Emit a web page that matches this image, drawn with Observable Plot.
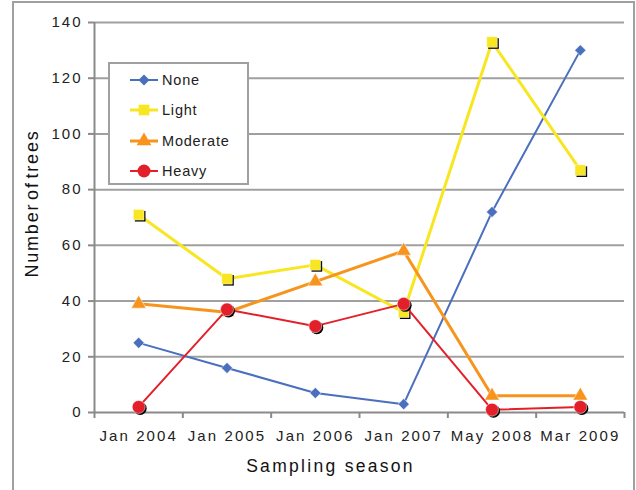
<!DOCTYPE html>
<html>
<head>
<meta charset="utf-8">
<script src="https://cdn.jsdelivr.net/npm/d3@7"></script>
<script src="https://cdn.jsdelivr.net/npm/@observablehq/plot@0.6"></script>
<style>
  body { margin: 0; background: #fff; }
  #wrap { position: relative; width: 636px; height: 490px; overflow: hidden; font-family: "Liberation Sans", Arial, sans-serif; }
  #frame { position: absolute; left: 12px; top: 1px; width: 619px; height: 520px; border: 2px solid #a0a0a0; }
  #chart { position: absolute; left: 0; top: 0; }
  #legend { position: absolute; left: 108px; top: 62px; width: 137px; height: 119px; border: 2px solid #a0a0a0; background: #fff; }
  .item { position: absolute; left: 20px; height: 20px; display: flex; align-items: center; font-size: 14.5px; letter-spacing: 0.8px; color: #222; }
  .item svg { margin-right: 2px; }
</style>
</head>
<body>
<div id="wrap">
  <div id="frame"></div>
  <div id="chart"></div>
  <div id="legend"></div>
</div>
<script>
const categories = ["Jan 2004", "Jan 2005", "Jan 2006", "Jan 2007", "May 2008", "Mar 2009"];
const seriesNames = ["None", "Light", "Moderate", "Heavy"];
const noneValues = [25, 16, 7, 3, 72, 130];
const lightValues = [71, 48, 53, 36, 133, 87];
const moderateValues = [39, 36, 47, 58, 6, 6];
const heavyValues = [2, 37, 31, 39, 1, 2];
const yTicks = [0, 20, 40, 60, 80, 100, 120, 140];
const yTitle = "Number of trees";
const xTitle = "Sampling season";
const colors = {None: "#4a6fbd", Light: "#f7e620", Moderate: "#f7941d", Heavy: "#e3202a"};
const symbols = {None: "diamond2", Light: "square", Moderate: "triangle", Heavy: "circle"};
const widths = {None: 2, Light: 3, Moderate: 3, Heavy: 2};
const sizes = {None: 5, Light: 6, Moderate: 5.5, Heavy: 6.5};

const valuesBySeries = {None: noneValues, Light: lightValues, Moderate: moderateValues, Heavy: heavyValues};
const rows = seriesNames.flatMap(s => valuesBySeries[s].map((v, i) => ({series: s, i, value: v})));
const idx = categories.map((c, i) => i);
const bounds = d3.range(-0.5, categories.length, 1);

const marks = [
  Plot.ruleY(yTicks.filter(t => t > 0), {stroke: "#a0a0a0", strokeWidth: 2}),
  Plot.ruleX([bounds[0]], {stroke: "#8a8a8a", strokeWidth: 2}),
  Plot.ruleY([0], {stroke: "#8a8a8a", strokeWidth: 2}),
  Plot.axisY({ticks: yTicks, tickSize: 6, tickPadding: 6, stroke: "#8a8a8a", strokeWidth: 2, fontSize: 15, fill: "#222", label: null}),
  Plot.axisX({ticks: bounds, tickFormat: () => "", tickSize: 6, stroke: "#8a8a8a", strokeWidth: 2, label: null}),
  Plot.axisX({ticks: idx, tickFormat: i => categories[i], tickSize: 0, tickPadding: 18, fontSize: 15, fill: "#222", label: null}),
  Plot.text([yTitle], {frameAnchor: "left", textAnchor: "middle", dx: -62, dy: -14, rotate: -90, fontSize: 18, fill: "#111"}),
  Plot.text([xTitle], {frameAnchor: "bottom", dx: -29, dy: 59, fontSize: 17.5, fill: "#111"})
];
for (const s of seriesNames) {
  const data = rows.filter(d => d.series === s);
  marks.push(Plot.line(data, {x: "i", y: "value", stroke: colors[s], strokeWidth: widths[s]}));
  if (s === "Light" || s === "Heavy") {
    marks.push(Plot.dot(data, {x: "i", y: "value", symbol: symbols[s], r: sizes[s], fill: "#000", dx: 1.5, dy: 1.5}));
  }
  marks.push(Plot.dot(data, {x: "i", y: "value", symbol: symbols[s], r: sizes[s], fill: colors[s], stroke: "#fff", strokeWidth: 0.5}));
}

const chart = Plot.plot({
  width: 636,
  height: 490,
  marginLeft: 94,
  marginRight: 12,
  marginTop: 22,
  marginBottom: 78,
  style: {background: "transparent", fontFamily: "'Liberation Sans', Arial, sans-serif"},
  x: {domain: [bounds[0], bounds[bounds.length - 1]], axis: null},
  y: {domain: [0, 140], axis: null},
  marks
});
d3.select(chart).selectAll("text").each(function() {
  const t = this.textContent;
  let ls = null, ws = null;
  if (categories.includes(t)) ls = "2.1px";
  else if (yTicks.map(String).includes(t)) ls = "2px";
  else if (t === yTitle) { ls = "1.8px"; ws = "-4px"; }
  else if (t === xTitle) ls = "2.3px";
  if (ls) this.style.letterSpacing = ls;
  if (ws) this.style.wordSpacing = ws;
});
document.getElementById("chart").appendChild(chart);

// Legend
const legend = document.getElementById("legend");
const symScale = Plot.scale({symbol: {domain: seriesNames, range: seriesNames.map(n => symbols[n])}});
seriesNames.forEach((s, k) => {
  const item = document.createElement("div");
  item.className = "item";
  item.style.top = (6 + k * 30.3) + "px";
  const sym = d3.symbol(symScale.apply(s), Math.PI * sizes[s] * sizes[s])();
  item.innerHTML = `<svg width="30" height="20"><line x1="0" x2="28" y1="10" y2="10" stroke="${colors[s]}" stroke-width="${widths[s]}"/><path transform="translate(14,10)" d="${sym}" fill="${colors[s]}"/></svg><span>${s}</span>`;
  legend.appendChild(item);
});
</script>
</body>
</html>
